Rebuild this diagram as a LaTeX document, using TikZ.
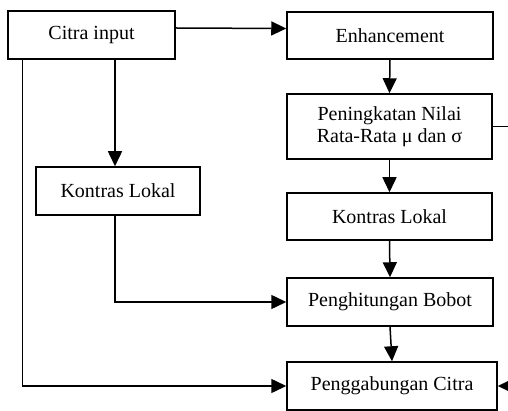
\documentclass[tikz,border=0pt]{standalone}
\usepackage{fontspec}
\setmainfont{Liberation Serif}
\usetikzlibrary{arrows.meta}

\begin{document}
\begin{tikzpicture}[x=1pt,y=-1pt,
  blok/.style={draw,line width=1.5pt,inner sep=0pt,align=center,font=\fontsize{20}{22}\selectfont},
  panah/.style={line width=1.5pt,-{Triangle[length=15pt,width=14pt]}}]
\useasboundingbox (0,0) rectangle (508,411);
\clip (0,0) rectangle (508,411);
% kotak
\node[blok,minimum width=167pt,minimum height=48pt] (cin) at (91.5,35) {Citra input};
\node[blok,minimum width=206pt,minimum height=47pt] (enh) at (390,35.5) {Enhancement};
\node[blok,minimum width=205pt,minimum height=65pt] (pen) at (389.5,126.5) {Peningkatan Nilai\\Rata-Rata μ dan σ};
\node[blok,minimum width=205pt,minimum height=47pt] (klr) at (389.5,216.5) {Kontras Lokal};
\node[blok,minimum width=164pt,minimum height=48pt] (kll) at (118,191) {Kontras Lokal};
\node[blok,minimum width=206pt,minimum height=48pt] (pb) at (390,302) {Penghitungan Bobot};
\node[blok,minimum width=210pt,minimum height=48pt] (pg) at (392,386) {Penggabungan Citra};
\coordinate (luar1) at (515,126.5);
\coordinate (luar2) at (520,386);
% panah
\draw[panah] ([yshift=7pt]cin.east) -- ([yshift=7pt]enh.west);
\draw[panah] (enh.south) -- (pen.north);
\draw[panah] (pen.south) -- (klr.north);
\draw[panah] (klr.south) -- (pb.north);
\draw[panah] (pb.south) -- (pg.north);
\draw[panah] ([xshift=-3pt]kll.north |- cin.south) -- ([xshift=-3pt]kll.north);
\draw[panah] ([xshift=-3pt]kll.south) |- (pb.west);
\draw[panah] ([xshift=15pt]cin.south west) |- (pg.west);
\draw[line width=1.5pt] (pen.east) -- (luar1);
\draw[panah] (luar2) -- (pg.east);
\end{tikzpicture}
\end{document}
